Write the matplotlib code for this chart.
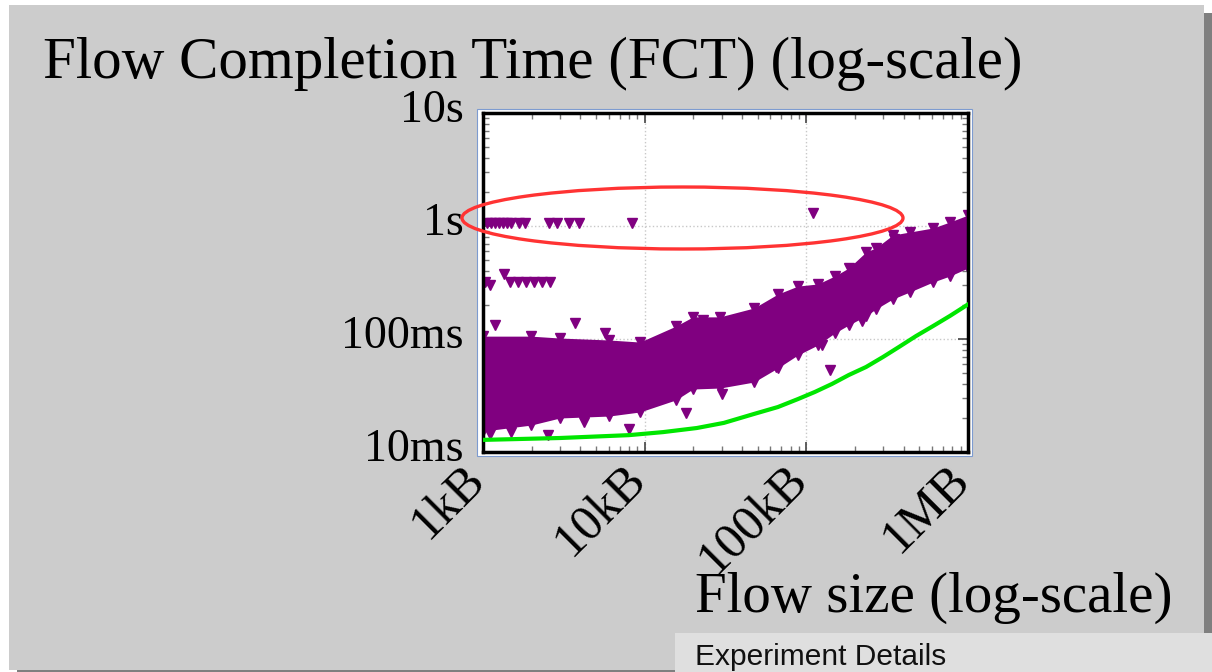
import matplotlib
matplotlib.use("Agg")
import matplotlib.pyplot as plt
from matplotlib.patches import Rectangle, Ellipse
from matplotlib.transforms import ScaledTranslation

W, H = 1212, 672

# data (flow size in bytes, FCT in ms)
band_x = [1000, 1980, 2990, 6010, 9350, 15600, 19900, 29200, 47400, 66700, 88700,
          118000, 150000, 183000, 234000, 269000, 343000, 437000, 607000, 773000, 1000000]
band_hi_ms = [106, 106, 102, 98, 94, 130, 157, 157, 188, 250, 294,
              307, 361, 425, 589, 639, 832, 885, 960, 1085, 1250]
band_lo_ms = [15.3, 17.3, 20.0, 20.8, 22.6, 28.9, 36.1, 36.8, 41.6, 55.4, 72.2,
              88.5, 113, 133, 160, 184, 226, 261, 319, 361, 425]

out_x = [1059, 1120, 1186, 1260, 1330, 1410, 1490, 1670, 1820, 2560, 2870, 3400, 3930, 8340, 110000,
         1029, 1105, 1349, 1469, 1645, 1845, 2066, 2317, 2596,
         140000, 221000, 125000, 18000, 8000, 2520, 64900, 30100, 891000, 348000,
         1186, 3710, 5680, 22900, 1100, 1500, 4200]
out_ms = [1063, 1063, 1063, 1063, 1063, 1063, 1063, 1063, 1063, 1063, 1063, 1063, 1063, 1063, 1300,
          319, 300, 376, 319, 319, 319, 319, 319, 319,
          53, 144, 88.5, 22.1, 16.0, 14.1, 56.5, 32.6, 480, 767,
          133, 139, 113, 146, 14.5, 15.0, 18.5]

ideal_x = [1000, 2990, 8000, 13000, 21000, 30900, 47400, 66700, 88700, 113000, 144000,
           183000, 234000, 298000, 374000, 476000, 607000, 773000, 1030000]
ideal_ms = [12.8, 13.3, 14.1, 15.0, 16.3, 18.1, 21.7, 25.0, 29.4, 34.0, 40.0,
            48.0, 56.5, 69.3, 85.0, 106, 130, 160, 208]

xtick_vals = [1e3, 1e4, 1e5, 1e6]
xtick_labels = ["1kB", "10kB", "100kB", "1MB"]
ytick_vals = [0.01, 0.1, 1, 10]
ytick_labels = ["10ms", "100ms", "1s", "10s"]

purple = "#800080"
serif = "Liberation Serif"


def fx(x):
    return x / W


def fy(y):
    return 1 - y / H


fig = plt.figure(figsize=(W / 100, H / 100), dpi=100)
fig.patch.set_facecolor("white")

# slide background, shadow and boxes
fig.add_artist(Rectangle((fx(17), 0), fx(1204 - 17), 2 / H, transform=fig.transFigure,
                         fc="#7f7f7f", lw=0, zorder=-12))
fig.add_artist(Rectangle((fx(1204), 0), fx(8), fy(13), transform=fig.transFigure,
                         fc="#7f7f7f", lw=0, zorder=-12))
fig.add_artist(Rectangle((fx(9), fy(670)), fx(1204 - 9), (670 - 5) / H, transform=fig.transFigure,
                         fc="#cccccc", lw=0, zorder=-11))
fig.add_artist(Rectangle((fx(675), 0), fx(W - 675), 39 / H, transform=fig.transFigure,
                         fc="#dfdfdf", lw=0, zorder=-10))
fig.add_artist(Rectangle((fx(477), fy(456)), fx(495), 347 / H, transform=fig.transFigure,
                         fc="white", ec="#7d9bd0", lw=0.8, zorder=-9))

ax = fig.add_axes([fx(483), fy(452), fx(968 - 483), (452 - 113) / H])
ax.set_xscale("log")
ax.set_yscale("log")
ax.set_xlim(1e3, 1e6)
ax.set_ylim(0.01, 10)

bhi = [v / 1000 for v in band_hi_ms]
blo = [v / 1000 for v in band_lo_ms]
ax.fill_between(band_x, blo, bhi, color=purple, lw=0, zorder=2)
ax.plot(band_x, bhi, "v", color=purple, ms=7, zorder=2)
ax.plot(band_x, blo, "v", color=purple, ms=7, zorder=2)
ax.plot(out_x, [v / 1000 for v in out_ms], "v", color=purple, ms=7, zorder=2, ls="none")
ax.plot(ideal_x, [v / 1000 for v in ideal_ms], color="#00e600", lw=3, zorder=3)

ax.grid(which="major", ls=":", color="#c8c8c8", lw=1)
ax.set_axisbelow(True)
for s in ax.spines.values():
    s.set_linewidth(2.5)
    s.set_color("black")

ax.tick_params(which="both", direction="in", top=True, right=True)
ax.tick_params(which="major", length=7, width=1.2, color="#444444")
ax.tick_params(which="minor", length=4, width=1, color="#777777")
ax.tick_params(axis="y", which="major", pad=14)
ax.tick_params(axis="x", which="major", pad=3)

ax.set_yticks(ytick_vals)
ax.set_yticklabels(ytick_labels, fontsize=33, family=serif)
up = ScaledTranslation(0, 7 / 100, fig.dpi_scale_trans)
for lab in ax.get_yticklabels():
    lab.set_transform(lab.get_transform() + up)

ax.set_xticks(xtick_vals)
ax.set_xticklabels(xtick_labels, fontsize=36, family=serif, rotation=45, ha="right", va="top")
shift = ScaledTranslation(11 / 100, 0, fig.dpi_scale_trans)
for lab in ax.get_xticklabels():
    lab.set_transform(lab.get_transform() + shift)

# red highlight ellipse around the ~1s outliers
fig.add_artist(Ellipse((fx(682.5), fy(218)), fx(441), 62 / H, transform=fig.transFigure,
                       fill=False, ec="#ff3333", lw=2.4, zorder=10))

fig.text(fx(43), fy(78), "Flow Completion Time (FCT) (log-scale)", fontsize=42.5,
         family=serif, va="baseline", ha="left")
fig.text(fx(695), fy(612), "Flow size (log-scale)", fontsize=41,
         family=serif, va="baseline", ha="left")
fig.text(fx(695), fy(665), "Experiment Details", fontsize=21.5,
         family="Liberation Sans", va="baseline", ha="left", color="#111111")

fig.savefig("out.png", dpi=100)
